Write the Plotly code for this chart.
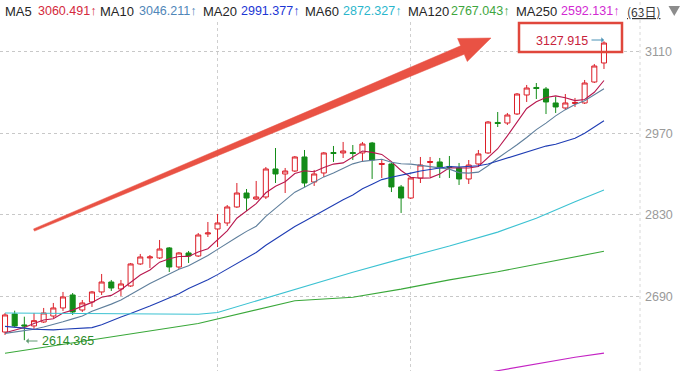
import plotly.graph_objects as go

# ---------------- data ----------------
days = list(range(1, 64))

opens = [2628.4, 2659.4, 2640.5, 2638.8, 2645.6, 2655.9, 2669.7, 2692.0, 2666.2, 2680.0,
         2697.2, 2714.3, 2702.3, 2707.5, 2745.3, 2755.6, 2755.6, 2772.8, 2740.1, 2764.2,
         2759.0, 2796.8, 2805.4, 2815.7, 2843.2, 2867.2, 2856.9, 2860.4, 2908.5, 2899.9,
         2905.0, 2929.1, 2886.1, 2901.6, 2936.8, 2936.0, 2936.8, 2936.0, 2953.1, 2916.2,
         2917.1, 2877.6, 2858.6, 2893.0, 2919.6, 2920.5, 2912.8, 2910.2, 2891.3, 2917.1,
         2936.0, 2988.4, 2987.5, 3003.0, 3035.6, 3048.5, 3045.9, 3021.9, 3013.3, 3021.0,
         3021.9, 3057.9, 3090.6]
highs = [2661.1, 2665.0, 2654.7, 2661.1, 2669.7, 2678.3, 2697.2, 2695.4, 2683.4, 2698.9,
         2728.1, 2717.8, 2717.8, 2747.0, 2762.5, 2760.7, 2786.5, 2774.4, 2765.9, 2767.6,
         2798.5, 2817.4, 2831.2, 2846.6, 2884.4, 2874.1, 2887.9, 2911.9, 2944.5, 2910.2,
         2930.8, 2941.1, 2906.8, 2937.7, 2948.0, 2954.9, 2949.7, 2954.9, 2954.9, 2923.9,
         2918.8, 2881.0, 2894.7, 2929.1, 2929.1, 2927.4, 2930.8, 2918.8, 2923.9, 2941.1,
         2990.9, 3006.4, 3004.7, 3039.0, 3052.8, 3056.2, 3049.3, 3032.2, 3037.3, 3030.5,
         3061.4, 3088.9, 3127.915]
lows = [2623.3, 2637.0, 2614.365, 2633.6, 2643.9, 2652.5, 2664.5, 2657.7, 2662.8, 2671.4,
        2692.0, 2698.9, 2690.3, 2705.8, 2743.6, 2738.4, 2753.8, 2731.5, 2736.7, 2747.0,
        2757.3, 2791.6, 2774.4, 2810.6, 2841.5, 2836.3, 2855.2, 2856.9, 2884.4, 2867.2,
        2903.3, 2877.6, 2879.3, 2894.7, 2920.5, 2927.4, 2923.9, 2920.5, 2891.3, 2893.0,
        2868.9, 2832.9, 2856.9, 2884.4, 2894.7, 2893.0, 2893.0, 2881.0, 2882.7, 2911.9,
        2934.3, 2980.6, 2984.1, 3001.2, 3023.6, 3028.7, 3002.9, 3004.7, 3009.8, 3015.0,
        3020.1, 3056.2, 3080.3]
closes = [2657.7, 2638.8, 2638.8, 2647.9, 2661.1, 2669.7, 2688.6, 2662.8, 2678.3, 2697.2,
          2714.3, 2704.0, 2710.9, 2745.3, 2757.3, 2757.3, 2771.0, 2740.1, 2764.2, 2759.0,
          2795.1, 2798.5, 2815.7, 2843.2, 2867.2, 2858.6, 2860.4, 2908.5, 2899.9, 2905.0,
          2929.1, 2884.4, 2899.9, 2936.0, 2935.1, 2939.4, 2935.1, 2951.4, 2923.9, 2917.9,
          2877.6, 2858.6, 2893.0, 2915.3, 2921.3, 2911.9, 2911.1, 2891.3, 2915.3, 2934.3,
          2989.2, 2986.6, 3001.2, 3037.3, 3047.6, 3046.8, 3023.6, 3015.0, 3021.9, 3022.8,
          3056.2, 3085.4, 3124.9]

ma5 = [2627, 2631, 2636, 2643, 2648.9, 2651.3, 2661.2, 2666.0, 2672.1, 2679.3,
       2688.2, 2691.3, 2700.9, 2714.3, 2726.4, 2735.0, 2748.4, 2754.2, 2758.0, 2758.3,
       2765.9, 2771.4, 2786.5, 2802.3, 2823.9, 2836.6, 2849.0, 2867.6, 2878.9, 2886.5,
       2900.6, 2905.4, 2903.7, 2910.9, 2916.9, 2919.0, 2929.1, 2939.4, 2937.0, 2933.5,
       2921.2, 2905.9, 2894.2, 2892.5, 2893.2, 2900.0, 2910.5, 2910.2, 2910.2, 2912.8,
       2928.2, 2943.3, 2965.3, 2989.7, 3012.4, 3023.9, 3031.3, 3034.1, 3031.0, 3026.0,
       3027.9, 3040.3, 3060.491]
ma10 = [2626, 2628, 2631, 2633, 2637, 2641, 2646, 2651, 2656, 2664.1,
        2669.8, 2676.3, 2683.5, 2693.2, 2702.9, 2711.6, 2719.9, 2727.6, 2736.2, 2742.4,
        2750.5, 2759.9, 2770.4, 2780.2, 2791.1, 2801.3, 2810.2, 2827.1, 2840.6, 2855.2,
        2868.6, 2877.2, 2885.7, 2894.9, 2901.7, 2909.8, 2917.3, 2921.6, 2924.0, 2925.2,
        2920.1, 2917.5, 2916.8, 2914.8, 2913.4, 2910.6, 2908.2, 2902.2, 2901.4, 2903.0,
        2914.1, 2926.9, 2937.8, 2950.0, 2962.6, 2976.1, 2987.3, 2999.7, 3010.4, 3019.2,
        3025.9, 3035.8, 3046.211]
ma20 = [2638, 2637, 2635, 2633, 2632, 2632, 2633, 2634, 2635, 2636,
        2641, 2648, 2654, 2660, 2666, 2673, 2680, 2687, 2694, 2703.3,
        2710.2, 2718.1, 2727.0, 2736.7, 2747.0, 2756.5, 2765.1, 2777.4, 2788.4, 2798.8,
        2809.6, 2818.6, 2828.1, 2837.6, 2846.4, 2855.6, 2863.8, 2874.4, 2882.3, 2890.2,
        2894.4, 2897.4, 2901.3, 2904.9, 2907.6, 2910.2, 2912.8, 2911.9, 2912.7, 2914.1,
        2917.1, 2922.2, 2927.3, 2932.4, 2938.0, 2943.4, 2947.8, 2951.0, 2955.9, 2961.1,
        2970.0, 2981.4, 2991.377]

ma60_days = [1, 11, 21, 23, 27, 32, 37, 42, 47, 52, 56, 60, 63]
ma60 = [2661, 2660, 2659, 2662, 2682, 2707, 2731, 2754, 2776, 2800, 2824, 2852, 2872.327]
ma120_days = [1, 11, 21, 31, 37, 42, 47, 52, 56, 60, 63]
ma120 = [2592, 2617, 2643, 2682, 2688, 2702, 2718, 2732, 2745, 2757, 2767.043]
ma250_days = [51, 52, 56, 60, 63]
ma250 = [2559, 2562, 2573, 2585, 2592.131]

y_ticks = [2690, 2830, 2970, 3110]
month_marks = [23, 43]

legend_items = [("MA5", "3060.491↑", "#d42a3c"), ("MA10", "3046.211↑", "#4f86b8"),
                ("MA20", "2991.377↑", "#1c36d4"), ("MA60", "2872.327↑", "#2ab6cc"),
                ("MA120", "2767.043↑", "#3ea63e"), ("MA250", "2592.131↑", "#d22ad2")]
high_label = "3127.915"
low_label = "2614.365"
period_label = "(63日)"

# ---------------- figure ----------------
W, H = 682, 371
L, R, T, B = 0, 42, 22, 0
PW, PH = W - L - R, H - T - B
X_RANGE = [0.48, 66.73]
Y_RANGE = [2561.4, 3161.0]


def px(x):
    return (x - L) / PW


def py(y):
    return (H - B - y) / PH


fig = go.Figure()
fig.add_trace(go.Candlestick(
    x=days, open=opens, high=highs, low=lows, close=closes,
    increasing=dict(line=dict(color="#dc1f28", width=1), fillcolor="#ffffff"),
    decreasing=dict(line=dict(color="#138c18", width=1), fillcolor="#138c18"),
    hoverinfo="skip", showlegend=False))

line_specs = [
    (days, ma5, "#b8174e"),
    (days, ma10, "#5f7f9c"),
    (days, ma20, "#1f3db4"),
    (ma60_days, ma60, "#3cc2d2"),
    (ma120_days, ma120, "#3aa83a"),
    (ma250_days, ma250, "#c423c4"),
]
for xs, ys, col in line_specs:
    fig.add_trace(go.Scatter(x=xs, y=ys, mode="lines",
                             line=dict(color=col, width=1.1),
                             hoverinfo="skip", showlegend=False))

fig.update_layout(
    width=W, height=H, autosize=False,
    margin=dict(l=L, r=R, t=T, b=B, pad=0),
    paper_bgcolor="white", plot_bgcolor="white",
    showlegend=False, boxgap=0.25,
    xaxis=dict(range=X_RANGE, rangeslider=dict(visible=False),
               tickvals=month_marks, showticklabels=False, ticks="",
               showgrid=True, gridcolor="#cfcfcf", griddash="dot", gridwidth=1,
               zeroline=False, showline=False, fixedrange=True),
    yaxis=dict(range=Y_RANGE, side="right", tickvals=y_ticks,
               showgrid=True, gridcolor="#c8c8c8", griddash="dot", gridwidth=1,
               zeroline=False, showline=False, ticks="", ticklabelstandoff=4,
               automargin=False,
               tickfont=dict(family="Liberation Sans, Arial, sans-serif",
                             size=12.5, color="#9a9a9a"),
               fixedrange=True),
)

shapes = []
# right frame line
shapes.append(dict(type="line", xref="paper", yref="paper", x0=1, x1=1,
                   y0=0, y1=py(0), line=dict(color="#d8d8d8", width=1, dash="dot")))

# big red trend arrow (decoration)
S = (34.0, 230.0)
Tp = (491.0, 38.0)
dx, dy = Tp[0] - S[0], Tp[1] - S[1]
ln = (dx * dx + dy * dy) ** 0.5
ux, uy = dx / ln, dy / ln
nx, ny = -uy, ux
head_len, head_w, w0, w1 = 31.0, 12.5, 1.2, 4.6
Bc = (Tp[0] - head_len * ux, Tp[1] - head_len * uy)
pts = [
    (S[0] + w0 * nx, S[1] + w0 * ny),
    (Bc[0] + w1 * nx, Bc[1] + w1 * ny),
    (Bc[0] + head_w * nx, Bc[1] + head_w * ny),
    Tp,
    (Bc[0] - head_w * nx, Bc[1] - head_w * ny),
    (Bc[0] - w1 * nx, Bc[1] - w1 * ny),
    (S[0] - w0 * nx, S[1] - w0 * ny),
]
path = "M " + " L ".join(f"{px(a):.5f},{py(b):.5f}" for a, b in pts) + " Z"
shapes.append(dict(type="path", xref="paper", yref="paper", path=path,
                   fillcolor="#e8493b", line=dict(color="#e8493b", width=0.5),
                   opacity=0.95))

# red box around the high label
shapes.append(dict(type="rect", xref="paper", yref="paper",
                   x0=px(519), x1=px(622), y0=py(52), y1=py(23),
                   line=dict(color="#e0473c", width=2.5)))
fig.update_layout(shapes=shapes)

ann = []
font_num = "Liberation Sans, Arial, DejaVu Sans, sans-serif"
# top legend line
label_x = [3, 98, 201, 303, 406, 514]
value_x = [36, 137, 239, 341, 449, 559]
for (name, val, col), lx, vx in zip(legend_items, label_x, value_x):
    ann.append(dict(text=name, x=px(lx), y=py(11), xref="paper", yref="paper",
                    xanchor="left", yanchor="middle", showarrow=False,
                    font=dict(family=font_num, size=13, color="#262626")))
    ann.append(dict(text=val, x=px(vx), y=py(11), xref="paper", yref="paper",
                    xanchor="left", yanchor="middle", showarrow=False,
                    font=dict(family=font_num, size=12.5, color=col)))
ann.append(dict(text="<u>" + period_label + "</u>", x=px(662), y=py(11),
                xref="paper", yref="paper", xanchor="right", yanchor="middle",
                showarrow=False,
                font=dict(family="Noto Sans CJK SC, sans-serif", size=12, color="#333333")))

# high label
ann.append(dict(text=high_label, x=px(562), y=py(40.5), xref="paper", yref="paper",
                xanchor="center", yanchor="middle", showarrow=False,
                font=dict(family=font_num, size=12.5, color="#c8223c")))
ann.append(dict(text="", x=px(604), y=py(40), xref="paper", yref="paper",
                ax=-14, ay=0, showarrow=True, arrowhead=1, arrowsize=0.9,
                arrowwidth=1, arrowcolor="#4a92b6"))
# low label
ann.append(dict(text=low_label, x=px(40), y=py(341), xref="paper", yref="paper",
                xanchor="left", yanchor="middle", showarrow=False,
                font=dict(family=font_num, size=12.5, color="#2c8c2c")))
ann.append(dict(text="", x=px(26), y=py(341), xref="paper", yref="paper",
                ax=13, ay=0, showarrow=True, arrowhead=1, arrowsize=0.9,
                arrowwidth=1, arrowcolor="#5f9a6f"))
fig.update_layout(annotations=ann)

# page tweaks: remove default body margin, and add the small dropdown triangle
# (a UI glyph next to the period label) directly to the top SVG layer
post_js = """
document.body.style.margin='0';
document.body.style.padding='0';
document.body.style.overflow='hidden';
(function(){
  var svgs = document.querySelectorAll('svg.main-svg');
  if(!svgs.length) return;
  var top = svgs[svgs.length-1];
  var poly = document.createElementNS('http://www.w3.org/2000/svg','polygon');
  poly.setAttribute('points','668.5,6 680,6 674.25,16');
  poly.setAttribute('fill','#8c8c8c');
  top.appendChild(poly);
})();
"""

fig.write_html("out.html", config={"displayModeBar": False, "staticPlot": True},
               post_script=post_js)
